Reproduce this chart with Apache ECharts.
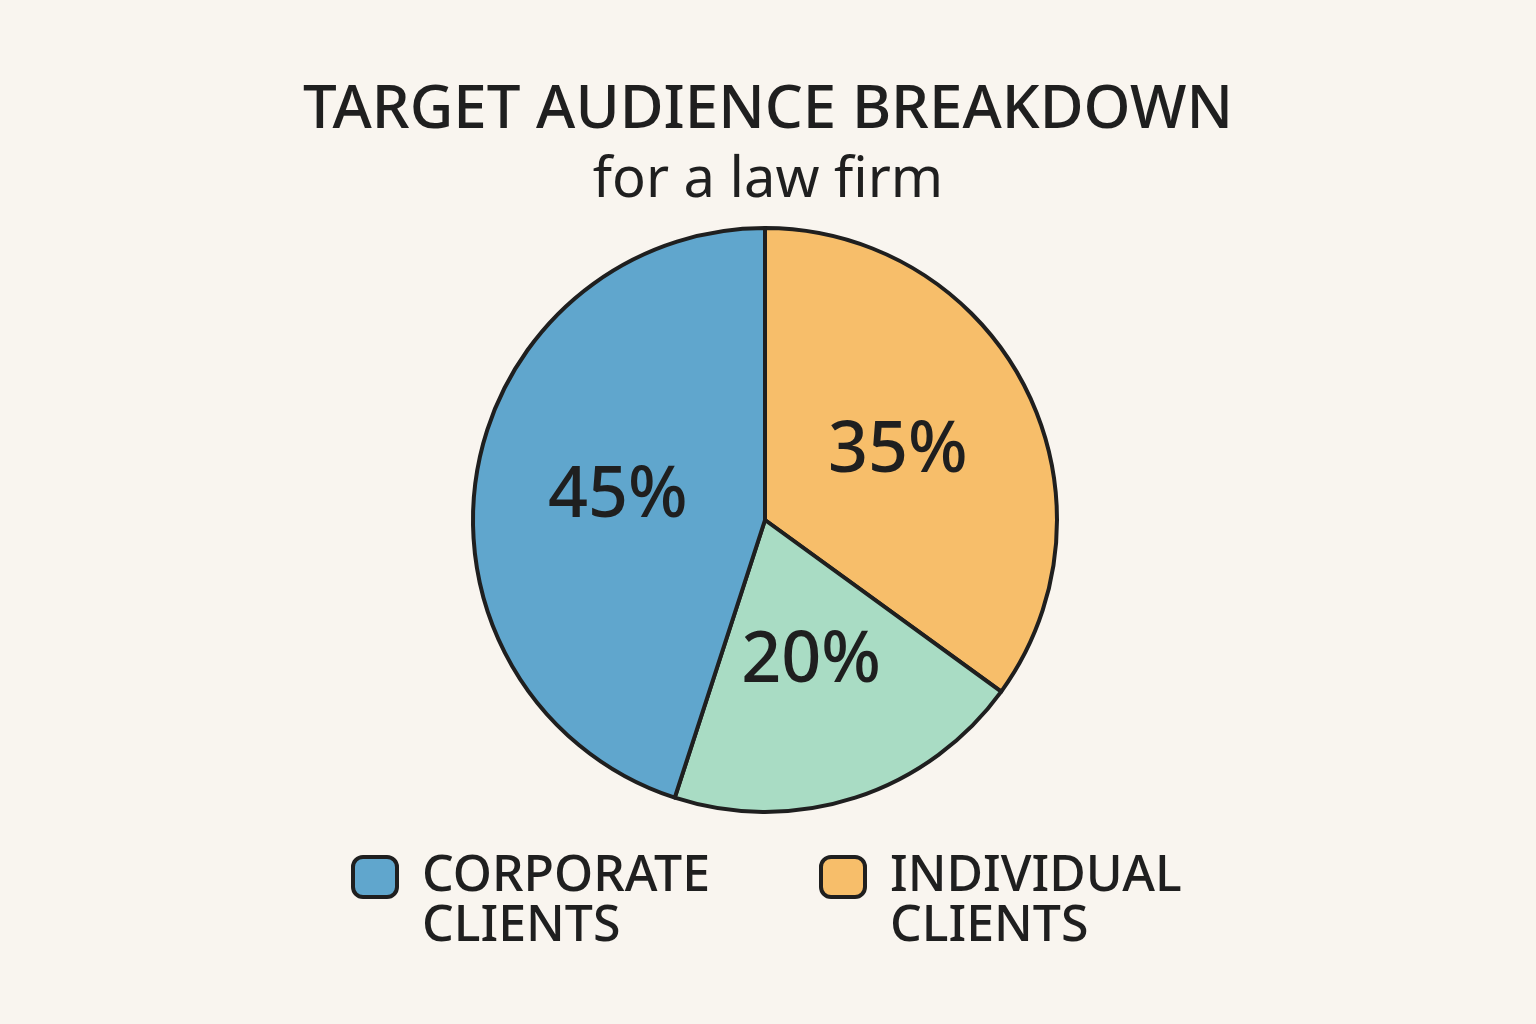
<!DOCTYPE html>
<html>
<head>
<meta charset="utf-8">
<script src="https://cdn.jsdelivr.net/npm/echarts@6/dist/echarts.min.js"></script>
<style>
  html, body { margin: 0; padding: 0; background: #f9f5ef; }
  #chart { width: 1536px; height: 1024px; }
</style>
</head>
<body>
<div id="chart"></div>
<script>
// data, clockwise from 12 o'clock
var sliceNames = ['INDIVIDUAL\nCLIENTS', 'OTHER', 'CORPORATE\nCLIENTS'];
var sliceValues = [35, 20, 45];
var sliceColors = ['#f7be6a', '#a9dcc4', '#60a6cd'];
var legendNames = ['CORPORATE\nCLIENTS', 'INDIVIDUAL\nCLIENTS'];

var ink = '#1f1f1f';
var font = '"Noto Sans", sans-serif';

var myChart = echarts.init(document.getElementById('chart'));

var pieData = [];
for (var i = 0; i < sliceNames.length; i++) {
    pieData.push({
        name: sliceNames[i],
        value: sliceValues[i],
        itemStyle: { color: sliceColors[i] }
    });
}

// one legend per item so each can sit where it does in the picture
function legendAt(name, left) {
    return {
        data: [name],
        left: left,
        top: 797,
        icon: 'roundRect',
        itemWidth: 44,
        itemHeight: 40,
        selectedMode: false,
        itemStyle: { borderColor: ink, borderWidth: 4 },
        // blank first line so the first real line sits level with the icon
        formatter: function (n) { return ' \n' + n; },
        textStyle: {
            fontFamily: font,
            fontSize: 50,
            fontWeight: 500,
            lineHeight: 50,
            color: ink,
            padding: [0, 0, 0, 20]
        }
    };
}

var option = {
    backgroundColor: '#f9f5ef',
    animation: false,
    title: {
        left: 'center',
        top: 76,
        text: 'TARGET AUDIENCE BREAKDOWN',
        subtext: 'for a law firm',
        itemGap: 12,
        textStyle: { fontFamily: font, fontSize: 60, fontWeight: 500, color: ink },
        subtextStyle: { fontFamily: font, fontSize: 56, color: ink }
    },
    legend: [
        legendAt(legendNames[0], 346),
        legendAt(legendNames[1], 814)
    ],
    series: [{
        type: 'pie',
        center: [765, 520],
        radius: 292,
        startAngle: 90,
        clockwise: true,
        itemStyle: { borderColor: ink, borderWidth: 4 },
        label: {
            position: 'inside',
            formatter: '{c}%',
            fontFamily: font,
            fontSize: 70,
            fontWeight: 500,
            color: ink
        },
        labelLine: { show: false },
        emphasis: { disabled: true },
        data: pieData
    }]
};

window.addEventListener('resize', myChart.resize);
myChart.setOption(option);
</script>
</body>
</html>
